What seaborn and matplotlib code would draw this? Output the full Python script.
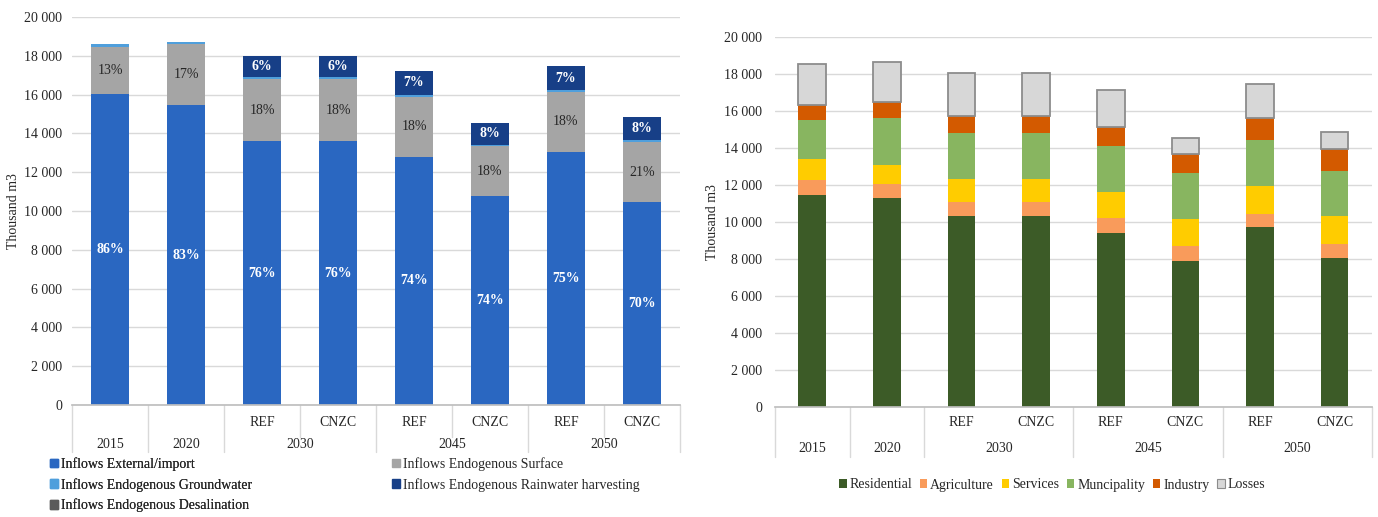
import numpy as np
import matplotlib
matplotlib.use("Agg")
import matplotlib.pyplot as plt
from matplotlib.ticker import FuncFormatter, MultipleLocator
from matplotlib.patches import Patch
import seaborn as sns

# Category hierarchy shared by both panels
years = ["2015", "2020", "2030", "2030", "2045", "2045", "2050", "2050"]
scenarios = ["", "", "REF", "CNZC", "REF", "CNZC", "REF", "CNZC"]

# Water supply by source (thousand m3)
supply_external = [16050, 15450, 13600, 13600, 12800, 10750, 13050, 10450]
supply_surface = [2400, 3150, 3200, 3200, 3100, 2600, 3100, 3100]
supply_groundwater = [150, 100, 100, 100, 100, 50, 100, 100]
supply_rainwater = [0, 0, 1100, 1100, 1200, 1150, 1200, 1200]
supply_desalination = [0, 0, 0, 0, 0, 0, 0, 0]

# Water use by sector (thousand m3)
use_residential = [11450, 11300, 10350, 10350, 9400, 7900, 9750, 8050]
use_agriculture = [800, 750, 750, 750, 800, 800, 700, 750]
use_services = [1150, 1050, 1200, 1200, 1400, 1450, 1500, 1550]
use_municipality = [2100, 2500, 2500, 2500, 2500, 2500, 2500, 2400]
use_industry = [800, 850, 900, 900, 1050, 1000, 1150, 1200]
use_losses = [2250, 2200, 2350, 2350, 2000, 900, 1850, 900]

sns.set_theme(style="white")
plt.rcParams["font.family"] = ["Liberation Serif", "DejaVu Serif"]
plt.rcParams["font.size"] = 10

keys = [f"{y} {s}".strip() for y, s in zip(years, scenarios)]
n = len(keys)

fig = plt.figure(figsize=(13.78, 5.17), dpi=100)
ax1 = fig.add_axes([0.05225, 0.2166, 0.4412, 0.7505])
ax2 = fig.add_axes([0.5624, 0.2122, 0.4332, 0.7168])

GRID = "#d9d9d9"
TXT = "#262626"


def stacked(ax, layers, width):
    bottom = np.zeros(n)
    for vals, color, ec, lw in layers:
        vals = np.asarray(vals, dtype=float)
        sns.barplot(x=keys, y=vals, order=keys, bottom=bottom.copy(), color=color,
                    saturation=1, width=width, errorbar=None, ax=ax,
                    edgecolor=ec, linewidth=lw, zorder=3)
        bottom += vals
    return bottom


def style_axes(ax, sep_bottom, row1, row2, short_seps, pad):
    ax.set_ylim(0, 20000)
    ax.set_xlim(-0.5, n - 0.5)
    ax.yaxis.set_major_locator(MultipleLocator(2000))
    ax.yaxis.set_major_formatter(FuncFormatter(lambda v, p: f"{int(v):,}".replace(",", " ")))
    ax.grid(axis="y", color=GRID, linewidth=1, zorder=0)
    ax.set_axisbelow(True)
    for s in ["top", "right", "left"]:
        ax.spines[s].set_visible(False)
    ax.spines["bottom"].set_color("#bfbfbf")
    ax.spines["bottom"].set_zorder(4)
    ax.set_xticks([])
    ax.set_xlabel("")
    ax.tick_params(axis="y", length=0, pad=pad, labelsize=10, labelcolor=TXT)
    ax.set_ylabel("Thousand m3", fontsize=10, color=TXT)
    tr = ax.get_xaxis_transform()
    # hierarchical category axis
    for b in [-0.5, 0.5, 1.5, 3.5, 5.5, 7.5]:
        ax.plot([b, b], [0, sep_bottom], transform=tr, color=GRID, lw=1, clip_on=False)
    for b in short_seps:
        ax.plot([b, b], [0, (sep_bottom + row1) / 2], transform=tr, color=GRID, lw=1, clip_on=False)
    for i, s in enumerate(scenarios):
        if s:
            ax.text(i, row1, s, transform=tr, ha="center", va="center", fontsize=10, color=TXT)
    groups = {}
    for i, y in enumerate(years):
        groups.setdefault(y, []).append(i)
    for y, idx in groups.items():
        ax.text(np.mean(idx), row2, y, transform=tr, ha="center", va="center", fontsize=10, color=TXT)


# ---- Left panel: supply by source ----
c_ext, c_surf, c_gw, c_rain, c_des = "#2a67c1", "#a5a5a5", "#4f9fdc", "#173f87", "#5a5a5a"
supply_layers = [
    (supply_external, c_ext, "none", 0),
    (supply_surface, c_surf, "none", 0),
    (supply_groundwater, c_gw, "none", 0),
    (supply_rainwater, c_rain, "none", 0),
    (supply_desalination, c_des, "none", 0),
]
totals = stacked(ax1, supply_layers, 0.49)
style_axes(ax1, -0.121, -0.044, -0.103, [2.5, 4.5, 6.5], pad=7)
ax1.yaxis.labelpad = 3

bottom = np.zeros(n)
label_styles = {0: ("white", "bold"), 1: (TXT, "normal"), 3: ("white", "bold")}
for li, (vals, _, _, _) in enumerate(supply_layers):
    vals = np.asarray(vals, dtype=float)
    if li in label_styles:
        col, wt = label_styles[li]
        for i in range(n):
            share = vals[i] / totals[i]
            if share >= 0.03:
                ax1.text(i, bottom[i] + vals[i] / 2, f"{share * 100:.0f}%", ha="center", va="center",
                         color=col, fontweight=wt, fontsize=10, zorder=5)
    bottom += vals

leg_a = fig.legend(handles=[Patch(color=c_ext), Patch(color=c_gw), Patch(color=c_des)],
                   labels=["Inflows External/import", "Inflows Endogenous Groundwater",
                           "Inflows Endogenous Desalination"],
                   loc="upper left", bbox_to_anchor=(50 / 1378, 1 - 457 / 517), frameon=False,
                   handlelength=0.55, handleheight=0.55, handletextpad=0.25, labelspacing=0.5,
                   borderpad=0, borderaxespad=0, fontsize=10)
for t in leg_a.get_texts():
    t.set_color(TXT)
leg_b = fig.legend(handles=[Patch(color=c_surf), Patch(color=c_rain)],
                   labels=["Inflows Endogenous Surface", "Inflows Endogenous Rainwater harvesting"],
                   loc="upper left", bbox_to_anchor=(392 / 1378, 1 - 457 / 517), frameon=False,
                   handlelength=0.55, handleheight=0.55, handletextpad=0.25, labelspacing=0.5,
                   borderpad=0, borderaxespad=0, fontsize=10)
for t in leg_b.get_texts():
    t.set_color(TXT)
fig.add_artist(leg_a)

# ---- Right panel: use by sector ----
c_res, c_agr, c_ser, c_mun, c_ind, c_los = "#3c5b27", "#f99b5b", "#ffcc00", "#88b560", "#d35a00", "#d7d7d7"
use_layers = [
    (use_residential, c_res, "none", 0),
    (use_agriculture, c_agr, "none", 0),
    (use_services, c_ser, "none", 0),
    (use_municipality, c_mun, "none", 0),
    (use_industry, c_ind, "none", 0),
    (use_losses, c_los, "#8c8c8c", 1.3),
]
stacked(ax2, use_layers, 0.37)
style_axes(ax2, -0.134, -0.042, -0.110, [], pad=9)

names = ["Residential", "Agriculture", "Services", "Muncipality", "Industry", "Losses"]
handles = [Patch(facecolor=c, edgecolor=e if lw else c, linewidth=0.8 if lw else 0)
           for (_, c, e, lw) in use_layers]
leg_c = fig.legend(handles=handles, labels=names, loc="center", ncol=6,
                   bbox_to_anchor=(1052 / 1378, 1 - 485 / 517), frameon=False,
                   handlelength=0.55, handleheight=0.55, handletextpad=0.2, columnspacing=0.55,
                   borderpad=0, borderaxespad=0, fontsize=10)
for t in leg_c.get_texts():
    t.set_color(TXT)

fig.savefig("out.png", dpi=100, facecolor="white")
